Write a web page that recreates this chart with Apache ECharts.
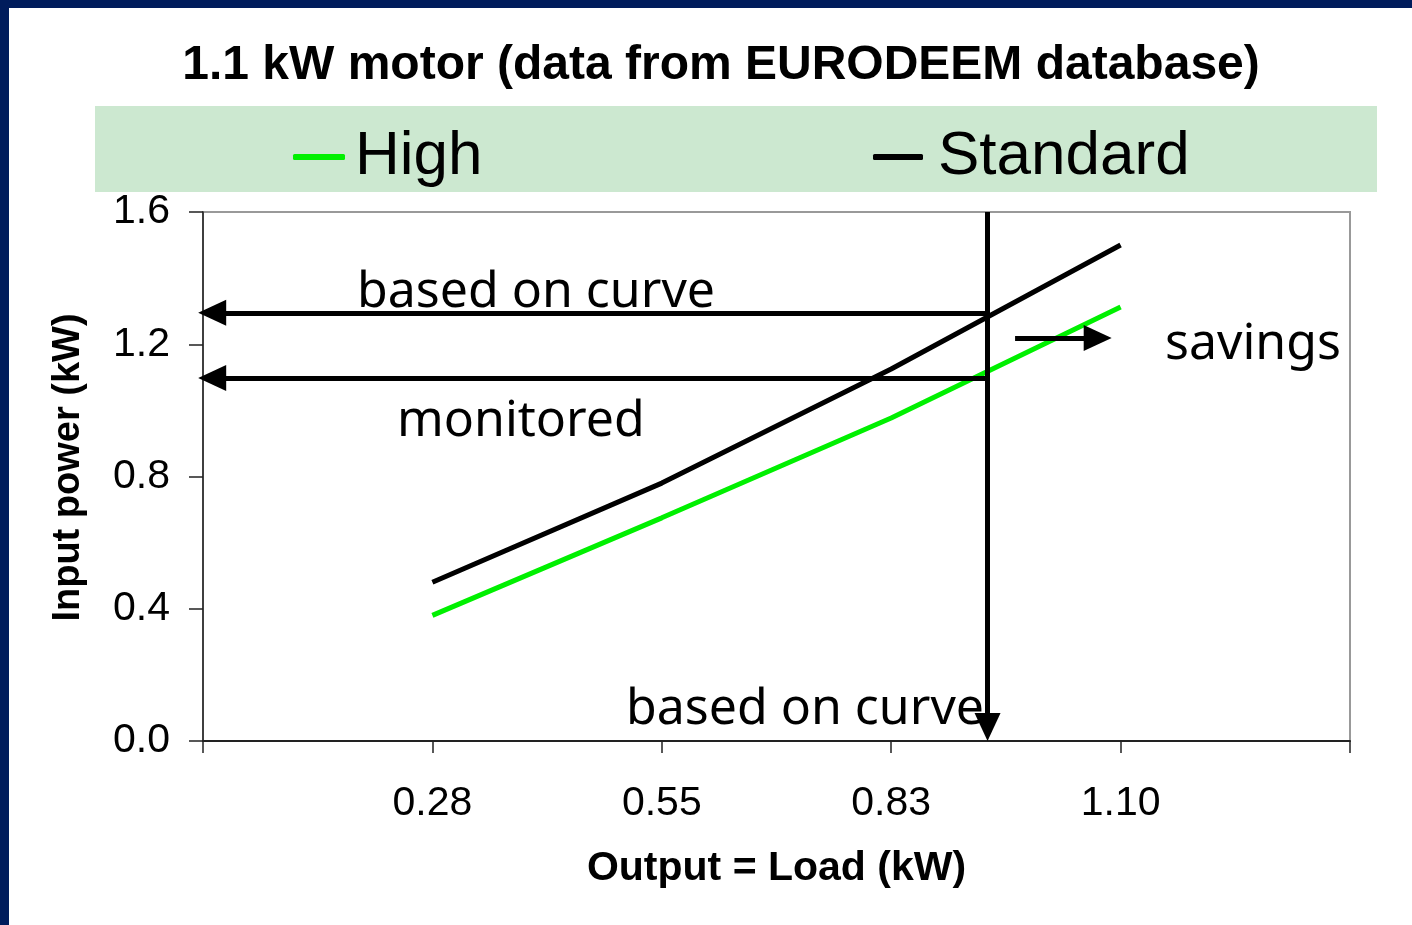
<!DOCTYPE html>
<html>
<head>
<meta charset="utf-8">
<script src="https://cdn.jsdelivr.net/npm/echarts@6/dist/echarts.min.js"></script>
<style>
html,body{margin:0;padding:0;background:#fff;}
#c{width:1412px;height:925px;}
</style>
</head>
<body>
<div id="c"></div>
<script>
// ---- data ----
var categories = ['', '0.28', '0.55', '0.83', '1.10', ' '];
var highValues = ['-', 0.38, 0.675, 0.977, 1.313];
var standardValues = ['-', 0.48, 0.78, 1.125, 1.50];
var yTicks = [0, 0.4, 0.8, 1.2, 1.6];
// annotation positions in axis units (x: category index, y: kW)
var loadMark = 3.42;           // vertical "based on curve" line
var curveInput = 1.295;        // horizontal "based on curve" level
var monitoredInput = 1.098;    // horizontal "monitored" level
var savingsArrow = [[3.54, 1.219], [3.90, 1.219]];

var chart = echarts.init(document.getElementById('c'), null, {renderer: 'canvas'});
var NAVY = '#001c5c';
var arrowLine = {color: '#000', width: 5, type: 'solid'};
function legendText(pad) {
  return {fontFamily: 'Liberation Sans, Arial', fontSize: 62, color: '#000', padding: [0,0,0,pad], lineHeight: 62};
}

var option = {
  backgroundColor: '#ffffff',
  animation: false,
  title: {
    text: '1.1 kW motor (data from EURODEEM database)',
    left: 716, top: 36, textAlign: 'center',
    textStyle: {fontFamily: 'Liberation Sans, Arial', fontWeight: 'bold', fontSize: 48, color: '#000', lineHeight: 50}
  },
  legend: [
    {data: ['High'], left: 293, top: 126, padding: 0, itemWidth: 52, itemHeight: 6, icon: 'roundRect',
     textStyle: legendText(5)},
    {data: ['Standard'], left: 873, top: 126, padding: 0, itemWidth: 50, itemHeight: 6, icon: 'roundRect',
     textStyle: legendText(10)}
  ],
  grid: {left: 203, right: 62, top: 212, bottom: 184, show: true, borderColor: '#999', borderWidth: 2, backgroundColor: 'transparent'},
  xAxis: [{
    type: 'category', data: categories, boundaryGap: false,
    name: 'Output = Load (kW)', nameLocation: 'middle', nameGap: 107,
    nameTextStyle: {fontFamily: 'Liberation Sans, Arial', fontWeight: 'bold', fontSize: 41, color: '#000'},
    axisLine: {lineStyle: {color: '#222', width: 2}},
    axisTick: {show: true, inside: false, length: 12, lineStyle: {color: '#222', width: 1.5}, interval: 0},
    axisLabel: {fontFamily: 'Liberation Sans, Arial', fontSize: 41, color: '#000', margin: 42, interval: 0},
    splitLine: {show: false}
  }, {
    type: 'value', min: 0, max: 5, show: false
  }],
  yAxis: {
    type: 'value', min: yTicks[0], max: yTicks[yTicks.length - 1], interval: 0.4,
    name: 'Input power (kW)', nameLocation: 'middle', nameGap: 115, nameRotate: 90,
    nameTextStyle: {fontFamily: 'Liberation Sans, Arial', fontWeight: 'bold', fontSize: 38, color: '#000', padding: [0,0,0,18]},
    axisLine: {show: true, lineStyle: {color: '#222', width: 1.5}},
    axisTick: {show: true, length: 14, lineStyle: {color: '#222', width: 1.5}},
    axisLabel: {fontFamily: 'Liberation Sans, Arial', fontSize: 41, color: '#000', margin: 33,
      formatter: function (v) { return v.toFixed(1); }},
    splitLine: {show: false}
  },
  series: [
    {name: 'High', type: 'line', data: highValues, symbol: 'none', color: '#00f000',
     lineStyle: {color: '#00f000', width: 5}, z: 3},
    {name: 'Standard', type: 'line', data: standardValues, symbol: 'none', color: '#000',
     lineStyle: {color: '#000', width: 5}, z: 3},
    {name: 'annot', type: 'line', xAxisIndex: 1, data: [], clip: false, z: 4,
     markLine: {
       silent: true, symbol: ['none', 'triangle'], symbolSize: [26, 28], precision: 5,
       label: {show: false}, lineStyle: arrowLine,
       data: [
         [{coord: [loadMark, 1.6]}, {coord: [loadMark, 0.042]}],
         [{coord: [loadMark, curveInput]}, {coord: [0.04, curveInput]}],
         [{coord: [loadMark, monitoredInput]}, {coord: [0.04, monitoredInput]}],
         [{coord: savingsArrow[0]}, {coord: savingsArrow[1]}]
       ]
     }}
  ],
  graphic: [
    {type: 'rect', z: -10, shape: {x: 95, y: 106, width: 1282, height: 86}, style: {fill: '#cce8d0'}},
    {type: 'rect', z: 100, shape: {x: 0, y: 0, width: 1412, height: 8}, style: {fill: NAVY}},
    {type: 'rect', z: 100, shape: {x: 0, y: 0, width: 9, height: 925}, style: {fill: NAVY}},
    {type: 'text', z: 50, style: {text: 'based on curve', x: 357, y: 293, verticalAlign: 'middle',
      font: '50px "Noto Sans"', fill: '#000'}},
    {type: 'text', z: 50, style: {text: 'monitored', x: 397, y: 422, verticalAlign: 'middle',
      font: '50px "Noto Sans"', fill: '#000'}},
    {type: 'text', z: 50, style: {text: 'savings', x: 1165, y: 345, verticalAlign: 'middle',
      font: '50px "Noto Sans"', fill: '#000'}},
    {type: 'text', z: 50, style: {text: 'based on curve', x: 626, y: 710, verticalAlign: 'middle',
      font: '50px "Noto Sans"', fill: '#000'}}
  ]
};
chart.setOption(option);
</script>
</body>
</html>
